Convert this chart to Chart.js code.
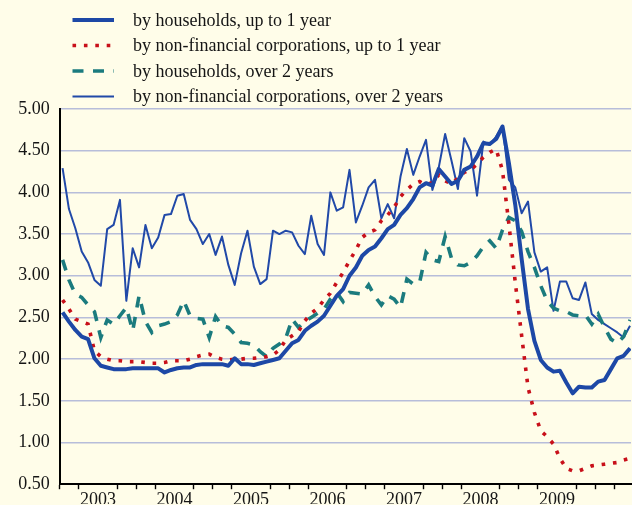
<!DOCTYPE html>
<html>
<head>
<meta charset="utf-8">
<script src="https://cdn.jsdelivr.net/npm/chart.js@4.4.1/dist/chart.umd.min.js"></script>
<style>
  html, body { margin: 0; padding: 0; background: #fffde9; }
  #wrap { width: 632px; height: 505px; }
</style>
</head>
<body>
<div id="wrap"><canvas id="c" width="632" height="505"></canvas></div>
<script>
// Year labels on the time axis (monthly observations from January 2003)
const years = ['2003', '2004', '2005', '2006', '2007', '2008', '2009'];

// Deposit interest rates, % per annum, monthly
const hhUpTo1y = [
  2.56, 2.45, 2.35, 2.27, 2.24, 2.01, 1.92, 1.90, 1.88, 1.88, 1.88, 1.89,
  1.89, 1.89, 1.89, 1.89, 1.84, 1.87, 1.89, 1.90, 1.90, 1.93, 1.94, 1.94,
  1.94, 1.94, 1.92, 2.01, 1.94, 1.94, 1.93, 1.95, 1.97, 1.99, 2.01, 2.10,
  2.19, 2.23, 2.34, 2.40, 2.45, 2.52, 2.64, 2.76, 2.84, 3.00, 3.10, 3.24,
  3.31, 3.35, 3.45, 3.56, 3.61, 3.73, 3.81, 3.92, 4.06, 4.11, 4.08, 4.28,
  4.19, 4.10, 4.14, 4.27, 4.31, 4.43, 4.59, 4.58, 4.64, 4.79, 4.35, 3.85,
  3.20, 2.60, 2.22, 1.99, 1.90, 1.85, 1.86, 1.72, 1.59, 1.67, 1.66, 1.66,
  1.73, 1.75, 1.88, 2.01, 2.04, 2.13
];
const nfcUpTo1y = [
  2.71, 2.60, 2.48, 2.45, 2.42, 2.10, 2.03, 2.00, 1.98, 1.98, 1.97, 1.97,
  1.97, 1.96, 1.95, 1.95, 1.96, 1.98, 1.98, 1.98, 2.00, 2.03, 2.05, 2.06,
  2.02, 2.00, 1.99, 2.00, 2.00, 2.01, 2.01, 2.02, 2.03, 2.05, 2.11, 2.23,
  2.28, 2.33, 2.46, 2.55, 2.61, 2.71, 2.79, 2.92, 3.04, 3.18, 3.31, 3.46,
  3.52, 3.55, 3.66, 3.73, 3.82, 3.95, 4.03, 4.10, 4.13, 4.09, 4.12, 4.21,
  4.14, 4.10, 4.17, 4.24, 4.27, 4.34, 4.42, 4.48, 4.52, 4.26, 3.62, 2.92,
  2.28, 1.66, 1.36, 1.14, 1.07, 0.98, 0.81, 0.69, 0.66, 0.66, 0.69, 0.72,
  0.73, 0.74, 0.75, 0.76, 0.79, 0.81
];
const hhOver2y = [
  3.19, 2.95, 2.78, 2.74, 2.65, 2.57, 2.26, 2.47, 2.42, 2.52, 2.62, 2.34,
  2.76, 2.45, 2.32, 2.40, 2.42, 2.45, 2.53, 2.70, 2.52, 2.49, 2.48, 2.26,
  2.51, 2.40, 2.38, 2.30, 2.20, 2.19, 2.17, 2.09, 2.03, 2.13, 2.18, 2.25,
  2.48, 2.38, 2.45, 2.50, 2.55, 2.60, 2.72, 2.80, 2.69, 2.80, 2.79, 2.78,
  2.89, 2.75, 2.65, 2.76, 2.72, 2.62, 2.96, 2.90, 2.92, 3.28, 3.19, 3.17,
  3.47, 3.21, 3.13, 3.12, 3.16, 3.24, 3.35, 3.42, 3.33, 3.55, 3.70, 3.66,
  3.53, 3.29, 3.10, 2.88, 2.70, 2.61, 2.58, 2.57, 2.53, 2.52, 2.53, 2.42,
  2.54, 2.38, 2.24, 2.19, 2.27, 2.47
];
const nfcOver2y = [
  4.29, 3.80, 3.57, 3.29, 3.16, 2.95, 2.88, 3.56, 3.61, 3.91, 2.70, 3.33,
  3.10, 3.61, 3.33, 3.46, 3.73, 3.74, 3.96, 3.98, 3.67, 3.56, 3.38, 3.50,
  3.25, 3.47, 3.13, 2.89, 3.27, 3.54, 3.11, 2.90, 2.96, 3.54, 3.50, 3.54,
  3.52, 3.36, 3.26, 3.72, 3.38, 3.25, 4.00, 3.78, 3.82, 4.27, 3.64, 3.84,
  4.06, 4.15, 3.69, 3.86, 3.69, 4.19, 4.52, 4.21, 4.43, 4.63, 4.03, 4.30,
  4.70, 4.38, 4.04, 4.65, 4.49, 3.96, 4.61, 4.57, 4.67, 4.80, 4.15, 4.06,
  3.75, 3.89, 3.28, 3.05, 3.10, 2.58, 2.93, 2.93, 2.73, 2.71, 2.92, 2.54,
  2.47, 2.42, 2.37, 2.32, 2.26, 2.40
];

const seriesNames = [
  'by households, up to 1 year',
  'by non-financial corporations, up to 1 year',
  'by households, over 2 years',
  'by non-financial corporations, over 2 years'
];

// months since Jan 2003; each observation sits inside its month
const asPoints = arr => arr.map((v, i) => ({ x: i + 0.45, y: v }));

const SERIF = '"Liberation Serif", "Times New Roman", serif';
const BG = '#fffde9';

// quarterly tick positions along the time axis
const quarterTicks = [];
for (let m = 0; m <= 87; m += 3) quarterTicks.push(m);

const paintBackground = {
  id: 'paintBackground',
  beforeDraw(chart) {
    const { ctx, width, height } = chart;
    ctx.save();
    ctx.fillStyle = BG;
    ctx.fillRect(0, 0, width, height);
    ctx.restore();
  }
};

// stacked legend above the plot, one row per series
const stackedLegend = {
  id: 'stackedLegend',
  afterDraw(chart) {
    const ctx = chart.ctx;
    chart.data.datasets.forEach((ds, k) => {
      const y = 20 + k * 25.5;
      ctx.save();
      ctx.strokeStyle = ds.borderColor;
      ctx.lineWidth = ds.borderWidth;
      ctx.lineCap = 'butt';
      ctx.setLineDash(ds.borderDash || []);
      ctx.beginPath();
      ctx.moveTo(72.5, y);
      ctx.lineTo(114, y);
      ctx.stroke();
      ctx.setLineDash([]);
      ctx.fillStyle = '#151515';
      ctx.font = '18px ' + SERIF;
      ctx.textBaseline = 'middle';
      ctx.textAlign = 'left';
      ctx.fillText(ds.label, 133, y + 1);
      ctx.restore();
    });
  }
};

new Chart(document.getElementById('c'), {
  type: 'line',
  data: {
    datasets: [
      {
        label: seriesNames[0],
        data: asPoints(hhUpTo1y),
        borderColor: '#1d48a6',
        borderWidth: 4,
        borderJoinStyle: 'round'
      },
      {
        label: seriesNames[1],
        data: asPoints(nfcUpTo1y),
        borderColor: '#c8101a',
        borderWidth: 3.6,
        borderDash: [3.6, 7.8],
        borderCapStyle: 'butt'
      },
      {
        label: seriesNames[2],
        data: asPoints(hhOver2y),
        borderColor: '#1b7b7e',
        borderWidth: 3.6,
        borderDash: [11, 9.5],
        borderCapStyle: 'butt'
      },
      {
        label: seriesNames[3],
        data: asPoints(nfcOver2y),
        borderColor: '#2149a8',
        borderWidth: 2,
        borderJoinStyle: 'round'
      }
    ]
  },
  options: {
    responsive: false,
    animation: false,
    devicePixelRatio: 1,
    layout: { padding: { top: 109, right: 1, left: 0, bottom: 0 } },
    plugins: { legend: { display: false }, tooltip: { enabled: false } },
    elements: { point: { radius: 0 }, line: { tension: 0 } },
    scales: {
      x: {
        type: 'linear',
        min: 0,
        max: 89.6,
        afterBuildTicks: s => { s.ticks = quarterTicks.map(v => ({ value: v })); },
        afterFit: s => { s.height = 19.7; },
        ticks: {
          autoSkip: false,
          maxRotation: 0,
          minRotation: 0,
          padding: 0,
          color: '#151515',
          font: { family: SERIF, size: 18 },
          callback: v => (v % 12 === 6 ? (years[(v - 6) / 12] || '') : '')
        },
        grid: {
          drawOnChartArea: false,
          drawTicks: true,
          tickLength: 5,
          tickWidth: 1.4,
          tickColor: c => (c.tick && c.tick.value % 12 === 6 ? 'rgba(0,0,0,0)' : '#000')
        },
        border: { display: true, color: '#000', width: 2 }
      },
      y: {
        min: 0.5,
        max: 5,
        afterFit: s => { s.width = 59.7; },
        ticks: {
          stepSize: 0.5,
          padding: 10,
          color: '#151515',
          font: { family: SERIF, size: 18 },
          callback: v => v.toFixed(2)
        },
        grid: {
          drawTicks: false,
          lineWidth: 1.5,
          color: c => (c.tick && c.tick.value === 0.5 ? 'rgba(0,0,0,0)' : '#b7bdda')
        },
        border: { display: true, color: '#000', width: 2 }
      }
    }
  },
  plugins: [paintBackground, stackedLegend]
});
</script>
</body>
</html>
